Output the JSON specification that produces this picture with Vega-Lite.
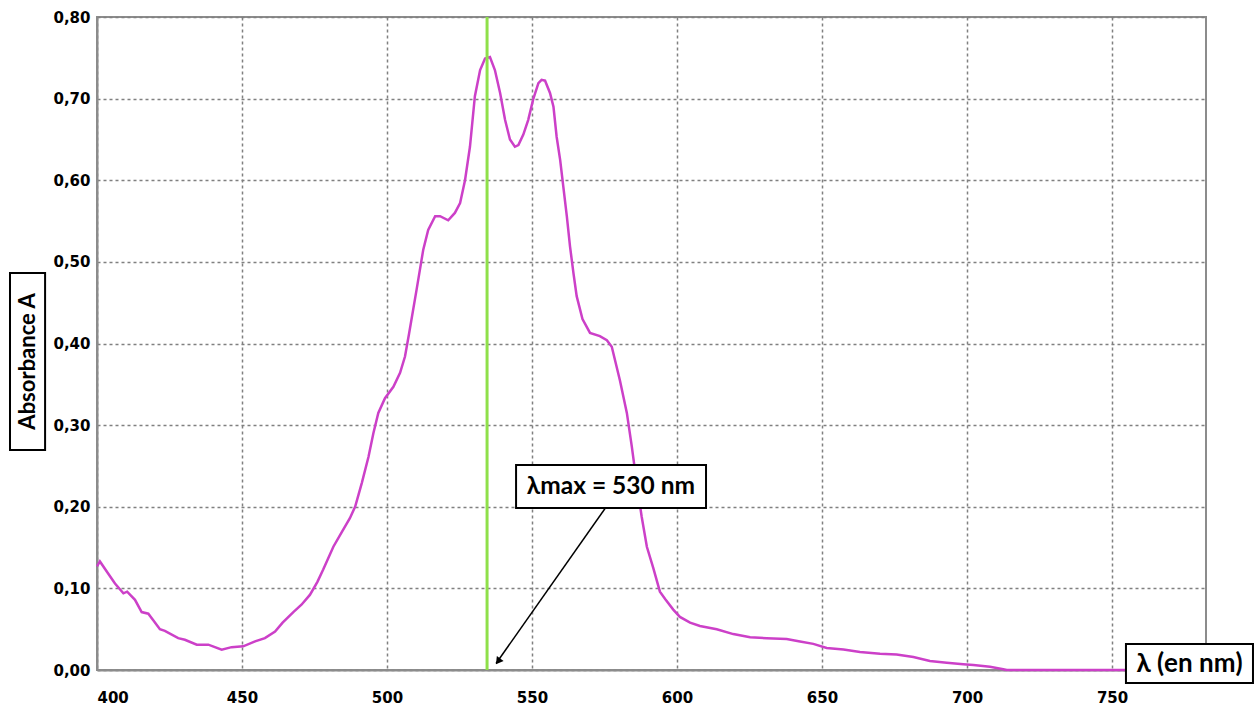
{
  "$schema": "https://vega.github.io/schema/vega-lite/v6.json",
  "width": 1109,
  "height": 653,
  "autosize": {"type": "none"},
  "padding": {"left": 97, "top": 17, "right": 53, "bottom": 51},
  "background": "white",
  "config": {
    "view": {"stroke": "#8c8c8c", "strokeWidth": 2},
    "axis": {
      "labelFont": "DejaVu Sans",
      "labelFontWeight": "bold",
      "labelFontSize": 15,
      "labelColor": "black",
      "domainColor": "#8c8c8c",
      "domainWidth": 2,
      "tickSize": 0,
      "gridColor": "#808080",
      "gridDash": [3, 3],
      "gridWidth": 1.5,
      "gridOpacity": 1,
      "title": null
    }
  },
  "datasets": {
    "spectrum": [
      {"lambda": 400, "A": 0.127}, {"lambda": 401, "A": 0.133}, {"lambda": 403.9, "A": 0.118},
      {"lambda": 406.2, "A": 0.106}, {"lambda": 409.1, "A": 0.094}, {"lambda": 410.4, "A": 0.096},
      {"lambda": 413.1, "A": 0.086}, {"lambda": 415.4, "A": 0.071}, {"lambda": 417.7, "A": 0.069},
      {"lambda": 419.4, "A": 0.061}, {"lambda": 421.7, "A": 0.05}, {"lambda": 423.4, "A": 0.048},
      {"lambda": 428, "A": 0.039}, {"lambda": 430.3, "A": 0.037}, {"lambda": 434.4, "A": 0.031},
      {"lambda": 438.4, "A": 0.031}, {"lambda": 443, "A": 0.025}, {"lambda": 446.4, "A": 0.028},
      {"lambda": 450.4, "A": 0.029}, {"lambda": 454.5, "A": 0.035}, {"lambda": 457.9, "A": 0.039},
      {"lambda": 461.4, "A": 0.047}, {"lambda": 464, "A": 0.058}, {"lambda": 467.7, "A": 0.071},
      {"lambda": 470.5, "A": 0.08}, {"lambda": 473.4, "A": 0.092}, {"lambda": 476, "A": 0.108},
      {"lambda": 478, "A": 0.123}, {"lambda": 481.5, "A": 0.151}, {"lambda": 484.4, "A": 0.169},
      {"lambda": 487.2, "A": 0.186}, {"lambda": 489, "A": 0.2}, {"lambda": 491.3, "A": 0.229},
      {"lambda": 493.6, "A": 0.261}, {"lambda": 495.3, "A": 0.29}, {"lambda": 497, "A": 0.315},
      {"lambda": 499.3, "A": 0.333}, {"lambda": 502.2, "A": 0.347}, {"lambda": 504.5, "A": 0.364},
      {"lambda": 506.2, "A": 0.384}, {"lambda": 507.6, "A": 0.412}, {"lambda": 510.2, "A": 0.466},
      {"lambda": 512.5, "A": 0.515}, {"lambda": 514.2, "A": 0.539}, {"lambda": 516.6, "A": 0.556},
      {"lambda": 518.3, "A": 0.556}, {"lambda": 521.1, "A": 0.551}, {"lambda": 523.4, "A": 0.56},
      {"lambda": 525.2, "A": 0.572}, {"lambda": 526.9, "A": 0.6}, {"lambda": 528.6, "A": 0.641},
      {"lambda": 530.3, "A": 0.703}, {"lambda": 532.1, "A": 0.735}, {"lambda": 533.8, "A": 0.749},
      {"lambda": 535.5, "A": 0.751}, {"lambda": 537.2, "A": 0.735}, {"lambda": 539, "A": 0.707},
      {"lambda": 540.7, "A": 0.674}, {"lambda": 542.4, "A": 0.65}, {"lambda": 544.1, "A": 0.641},
      {"lambda": 545.3, "A": 0.643}, {"lambda": 547, "A": 0.656}, {"lambda": 548.7, "A": 0.674},
      {"lambda": 550.4, "A": 0.699}, {"lambda": 552.2, "A": 0.719}, {"lambda": 553.3, "A": 0.723},
      {"lambda": 554.5, "A": 0.722}, {"lambda": 556.2, "A": 0.707}, {"lambda": 557.4, "A": 0.69},
      {"lambda": 558.5, "A": 0.653}, {"lambda": 559.7, "A": 0.625}, {"lambda": 560.8, "A": 0.592},
      {"lambda": 562, "A": 0.556}, {"lambda": 563.1, "A": 0.519}, {"lambda": 564.3, "A": 0.486},
      {"lambda": 565.4, "A": 0.458}, {"lambda": 567.4, "A": 0.43}, {"lambda": 570, "A": 0.413},
      {"lambda": 573.4, "A": 0.409}, {"lambda": 575.8, "A": 0.404}, {"lambda": 577.5, "A": 0.396},
      {"lambda": 580.3, "A": 0.355}, {"lambda": 582.7, "A": 0.315}, {"lambda": 584.4, "A": 0.274},
      {"lambda": 586.1, "A": 0.229}, {"lambda": 587.8, "A": 0.188}, {"lambda": 589.6, "A": 0.151},
      {"lambda": 591.8, "A": 0.125}, {"lambda": 594.1, "A": 0.096}, {"lambda": 595.9, "A": 0.087},
      {"lambda": 598.7, "A": 0.074}, {"lambda": 601, "A": 0.065}, {"lambda": 604.5, "A": 0.058},
      {"lambda": 607.9, "A": 0.054}, {"lambda": 613.7, "A": 0.05}, {"lambda": 619.4, "A": 0.044},
      {"lambda": 625.2, "A": 0.04}, {"lambda": 630.9, "A": 0.039}, {"lambda": 637.8, "A": 0.038},
      {"lambda": 642.4, "A": 0.035}, {"lambda": 647, "A": 0.032}, {"lambda": 651.6, "A": 0.027},
      {"lambda": 657.4, "A": 0.025}, {"lambda": 663.1, "A": 0.022}, {"lambda": 670, "A": 0.02},
      {"lambda": 675.7, "A": 0.019}, {"lambda": 681.5, "A": 0.016}, {"lambda": 687.2, "A": 0.011},
      {"lambda": 693, "A": 0.009}, {"lambda": 698.7, "A": 0.007}, {"lambda": 702.2, "A": 0.006},
      {"lambda": 707.9, "A": 0.004}, {"lambda": 712.5, "A": 0.001}, {"lambda": 713.7, "A": 0},
      {"lambda": 760, "A": 0}
    ],
    "marker": [{"lambda": 534.5, "A0": 0, "A1": 0.8}],
    "boxes": [
      {"x0": 544.5, "x1": 610, "y0": 0.1985, "y1": 0.251},
      {"x0": 754.8, "x1": 798.6, "y0": -0.0159, "y1": 0.0319},
      {"x0": 370, "x1": 382.1, "y0": 0.2696, "y1": 0.4865}
    ],
    "labelMax": [{"x": 577.2, "y": 0.2245, "text": "λmax = 530 nm"}],
    "labelX": [{"x": 776.7, "y": 0.0078, "text": "λ (en nm)"}],
    "labelY": [{"x": 376.3, "y": 0.378, "text": "Absorbance A"}],
    "arrow": [{"x": 575.3, "y": 0.1985, "x2": 537.6, "y2": 0.008}],
    "arrowhead": [{"x": 538.3, "y": 0.0105}]
  },
  "layer": [
    {
      "data": {"name": "spectrum"},
      "mark": {"type": "line", "color": "#cc40c8", "strokeWidth": 2.5},
      "encoding": {
        "x": {
          "field": "lambda", "type": "quantitative",
          "scale": {"domain": [400, 782.4], "nice": false, "zero": false},
          "axis": {"values": [400, 450, 500, 550, 600, 650, 700, 750], "labelPadding": 20, "format": "d", "grid": true}
        },
        "y": {
          "field": "A", "type": "quantitative",
          "scale": {"domain": [0, 0.8], "nice": false},
          "axis": {"values": [0, 0.1, 0.2, 0.3, 0.4, 0.5, 0.6, 0.7, 0.8], "labelPadding": 7, "grid": true,
                   "labelExpr": "replace(format(datum.value, '.2f'), '.', ',')"}
        }
      }
    },
    {
      "data": {"name": "marker"},
      "mark": {"type": "rule", "color": "#8fe04a", "strokeWidth": 3},
      "encoding": {
        "x": {"field": "lambda", "type": "quantitative"},
        "y": {"field": "A0", "type": "quantitative"},
        "y2": {"field": "A1"}
      }
    },
    {
      "data": {"name": "boxes"},
      "mark": {"type": "rect", "fill": "white", "stroke": "black", "strokeWidth": 2},
      "encoding": {
        "x": {"field": "x0", "type": "quantitative"},
        "x2": {"field": "x1"},
        "y": {"field": "y0", "type": "quantitative"},
        "y2": {"field": "y1"}
      }
    },
    {
      "data": {"name": "labelMax"},
      "mark": {"type": "text", "font": "Lato", "fontWeight": "bold", "fontSize": 24.5, "color": "black", "align": "center", "baseline": "middle"},
      "encoding": {
        "x": {"field": "x", "type": "quantitative"},
        "y": {"field": "y", "type": "quantitative"},
        "text": {"field": "text"}
      }
    },
    {
      "data": {"name": "labelX"},
      "mark": {"type": "text", "font": "Lato", "fontWeight": "bold", "fontSize": 26, "color": "black", "align": "center", "baseline": "middle"},
      "encoding": {
        "x": {"field": "x", "type": "quantitative"},
        "y": {"field": "y", "type": "quantitative"},
        "text": {"field": "text"}
      }
    },
    {
      "data": {"name": "labelY"},
      "mark": {"type": "text", "font": "Lato", "fontWeight": "bold", "fontSize": 22, "angle": 270, "color": "black", "align": "center", "baseline": "middle"},
      "encoding": {
        "x": {"field": "x", "type": "quantitative"},
        "y": {"field": "y", "type": "quantitative"},
        "text": {"field": "text"}
      }
    },
    {
      "data": {"name": "arrow"},
      "mark": {"type": "rule", "color": "black", "strokeWidth": 1.5},
      "encoding": {
        "x": {"field": "x", "type": "quantitative"},
        "y": {"field": "y", "type": "quantitative"},
        "x2": {"field": "x2"},
        "y2": {"field": "y2"}
      }
    },
    {
      "data": {"name": "arrowhead"},
      "mark": {"type": "point", "shape": "triangle-up", "filled": true, "color": "black", "size": 70, "angle": 216.5, "opacity": 1},
      "encoding": {
        "x": {"field": "x", "type": "quantitative"},
        "y": {"field": "y", "type": "quantitative"}
      }
    }
  ]
}
